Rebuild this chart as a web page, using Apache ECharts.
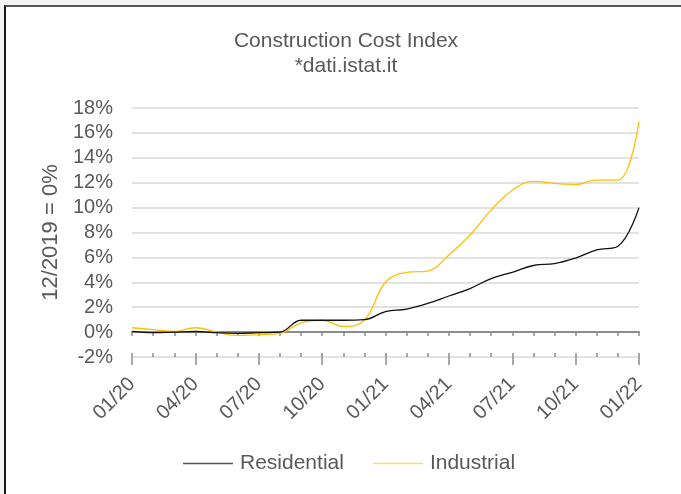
<!DOCTYPE html>
<html>
<head>
<meta charset="utf-8">
<script src="https://cdn.jsdelivr.net/npm/echarts@6/dist/echarts.min.js"></script>
<style>
  html, body { margin: 0; padding: 0; background: #f4f4f4; width: 681px; height: 494px; overflow: hidden; }
  #frame { position: absolute; left: 4px; top: 5px; width: 675px; height: 489px; background: #fff;
           border-left: 2px solid #1a1a1a; border-top: 2px solid #555; }
  #chart { position: absolute; left: 0; top: 0; width: 681px; height: 494px; }
</style>
</head>
<body>
<div id="frame"></div>
<div id="chart"></div>
<script>
const months = ['01/20','02/20','03/20','04/20','05/20','06/20','07/20','08/20','09/20','10/20','11/20','12/20',
                '01/21','02/21','03/21','04/21','05/21','06/21','07/21','08/21','09/21','10/21','11/21','12/21','01/22'];
const residential = [0.05, -0.05, 0.0, 0.05, -0.05, -0.1, -0.05, 0.0, 0.95, 0.95, 0.95, 1.0,
                     1.65, 1.85, 2.3, 2.9, 3.5, 4.3, 4.8, 5.35, 5.5, 5.95, 6.6, 6.9, 10.0];
const industrial = [0.35, 0.2, 0.05, 0.35, 0.0, -0.27, -0.2, -0.1, 0.75, 0.95, 0.45, 0.95,
                    4.0, 4.8, 4.9, 6.2, 7.8, 9.8, 11.4, 12.1, 11.95, 11.85, 12.2, 12.2, 16.9];
const yMin = -2, yMax = 18, yStep = 2;

const font = 'Liberation Sans, Arial, sans-serif';
const labelColor = '#595959';
const axisGrey = '#8c8c8c';

const chart = echarts.init(document.getElementById('chart'), null, { renderer: 'canvas' });
chart.setOption({
  backgroundColor: 'transparent',
  animation: false,
  title: {
    text: 'Construction Cost Index\n*dati.istat.it',
    left: 341, top: 24,
    textAlign: 'center',
    textStyle: { fontFamily: font, fontSize: 21, fontWeight: 'normal', color: labelColor, lineHeight: 25 }
  },
  legend: {
    top: 453, left: 183, padding: 0,
    icon: 'rect',
    itemWidth: 50, itemHeight: 1.5, itemGap: 29,
    textStyle: { fontFamily: font, fontSize: 21, color: labelColor, padding: [0, 0, 0, 2] },
    data: ['Residential', 'Industrial']
  },
  grid: { left: 132, right: 42, top: 108, bottom: 137 },
  xAxis: [
    {
      type: 'category', data: months, boundaryGap: false, position: 'bottom',
      axisLine: { show: true, onZero: true, lineStyle: { color: axisGrey, width: 2 } },
      axisTick: { show: true, interval: 0, length: 4, lineStyle: { color: axisGrey, width: 1.5 } },
      axisLabel: { interval: 2, rotate: 45, margin: 24, fontFamily: font, fontSize: 20, color: labelColor },
      splitLine: { show: false }
    },
    {
      type: 'category', data: months, boundaryGap: false, position: 'bottom',
      axisLine: { show: false, onZero: true },
      axisTick: { show: true, inside: true, interval: 0, length: 4, lineStyle: { color: axisGrey, width: 1.5 } },
      axisLabel: { show: false }, splitLine: { show: false }
    },
    {
      type: 'category', data: months, boundaryGap: false, position: 'bottom',
      axisLine: { show: false, onZero: true },
      axisTick: { show: true, interval: 2, length: 8, lineStyle: { color: axisGrey, width: 1.5 } },
      axisLabel: { show: false }, splitLine: { show: false }
    }
  ],
  yAxis: {
    type: 'value', min: yMin, max: yMax, interval: yStep,
    name: '12/2019 = 0%', nameLocation: 'middle', nameGap: 54, nameRotate: 90,
    nameTextStyle: { fontFamily: font, fontSize: 22, color: labelColor },
    axisLine: { show: false }, axisTick: { show: false },
    axisLabel: { formatter: '{value}%', margin: 19, fontFamily: font, fontSize: 20, color: labelColor },
    splitLine: { show: true, lineStyle: { color: '#d9d9d9', width: 1.5 } }
  },
  series: [
    {
      name: 'Residential', type: 'line', data: residential, smooth: 0.4, symbol: 'none',
      lineStyle: { color: '#111111', width: 1.3 }, itemStyle: { color: '#555555' }, z: 3
    },
    {
      name: 'Industrial', type: 'line', data: industrial, smooth: 0.4, symbol: 'none',
      lineStyle: { color: '#ffc000', width: 1.3 }, itemStyle: { color: '#ffd966' }, z: 2
    }
  ]
});
</script>
</body>
</html>
